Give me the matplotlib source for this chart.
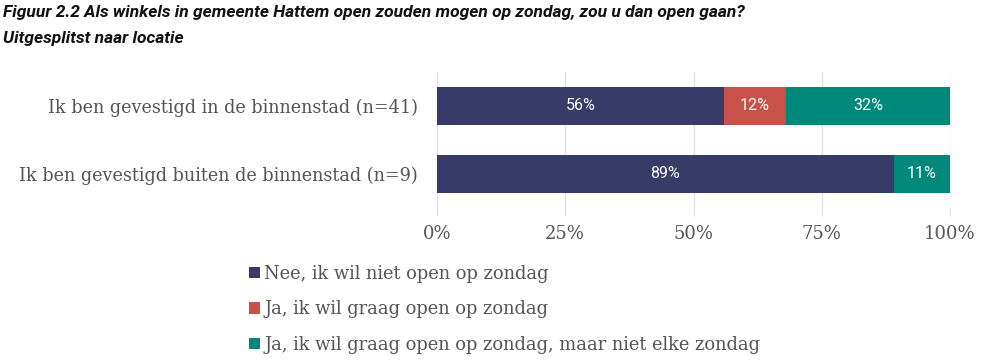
import matplotlib
matplotlib.use("Agg")
import matplotlib.pyplot as plt
import numpy as np

categories = ["Ik ben gevestigd in de binnenstad (n=41)",
              "Ik ben gevestigd buiten de binnenstad (n=9)"]
series_names = ["Nee, ik wil niet open op zondag",
                "Ja, ik wil graag open op zondag",
                "Ja, ik wil graag open op zondag, maar niet elke zondag"]
nee = [56, 89]
ja = [12, 0]
ja_niet_elke = [32, 11]
colors = ["#383b68", "#c8514a", "#00897b"]
xticks = [0, 25, 50, 75, 100]
title_lines = ["Figuur 2.2 Als winkels in gemeente Hattem open zouden mogen op zondag, zou u dan open gaan?",
               "Uitgesplitst naar locatie"]

fig = plt.figure(figsize=(9.81, 3.62), dpi=100)
ax = fig.add_axes([437/981, 1 - 208/362, (950-437)/981, (208-72)/362])

y = np.arange(len(categories))
left = np.zeros(len(categories))
serif = "DejaVu Serif"
for vals, col, name in zip([nee, ja, ja_niet_elke], colors, series_names):
    vals = np.array(vals, dtype=float)
    ax.barh(y, vals, left=left, height=0.55, color=col, label=name, zorder=3)
    for yi, v, l in zip(y, vals, left):
        if v > 0:
            ax.text(l + v/2, yi, f"{int(v)}%", ha="center", va="center",
                    color="white", fontsize=11.5, family="Roboto", zorder=4)
    left += vals

ax.set_xlim(0, 100)
ax.set_ylim(1.5, -0.5)
ax.set_xticks(xticks)
ax.set_xticklabels([f"{t}%" for t in xticks], family=serif, fontsize=13, color="#555555")
ax.set_yticks(y)
ax.set_yticklabels(categories, family=serif, fontsize=12.7, color="#555555")
ax.tick_params(axis="y", length=0, pad=14)
ax.tick_params(axis="x", length=6, color="#dddddd", pad=6)
ax.grid(axis="x", color="#e2e2e6", linewidth=1, zorder=0)
for s in ax.spines.values():
    s.set_visible(False)

for i, line in enumerate(title_lines):
    fig.text(0.003, 1 - (13 + 26*i)/362, line,
             ha="left", va="center", fontsize=12.5, family="Roboto", fontweight="bold", style="italic",
             color="#111111")

handles, labels = ax.get_legend_handles_labels()
leg = fig.legend(handles, labels, loc="upper left", bbox_to_anchor=(233/981, 1 - 249/362),
                 frameon=False, ncol=1, handlelength=0.6, handleheight=0.6,
                 handletextpad=0.25, labelspacing=0.96,
                 prop={"family": serif, "size": 12.9})
for t in leg.get_texts():
    t.set_color("#555555")

fig.savefig("out.png", dpi=100)
